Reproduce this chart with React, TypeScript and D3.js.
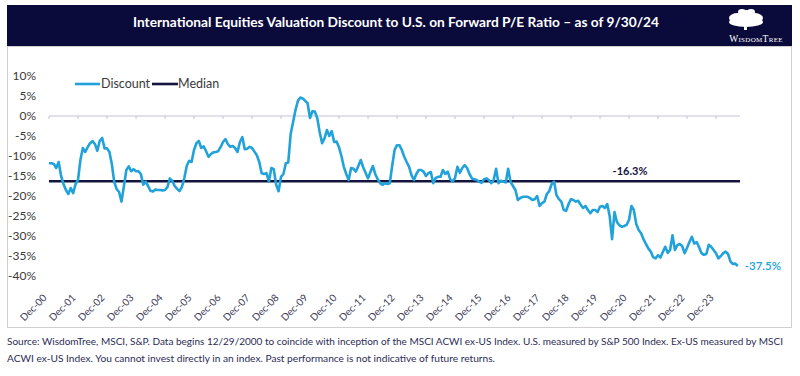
import React from "react";
import * as d3 from "d3";

// Monthly discount (%) from Dec-2000 to Sep-2024
const discount: number[] = [
  -11.8, -11.8, -12, -13, -11.5, -15, -17, -18.5, -19.5, -18, -19.3, -17, -16,
  -11, -8, -9, -7.8, -6.8, -6.3, -7, -8.7, -6.2, -5.5, -8.1, -8.1, -9, -12,
  -16.5, -18.3, -19, -21.4, -17.5, -13.5, -12.6, -13.8, -13.3, -13.8, -13.8,
  -14.5, -17.2, -16.4, -17.5, -18.7, -18.9, -18.4, -18.5, -18.5, -18.6, -18.5,
  -17.8, -15.6, -16.2, -17.5, -18.2, -18.8, -17.7, -15.5, -12.5, -11.2, -11.5,
  -8.5, -6.8, -6.2, -8, -7.6, -8.8, -10.2, -9.5, -9.1, -9.0, -8.8, -7.8, -6.5,
  -5.8, -7, -7.7, -7.5, -8, -9, -6.5, -5.3, -8.3, -8.2, -7.7, -8, -8.9, -9.8,
  -11.5, -14.3, -14.5, -14.3, -16.4, -13, -13.3, -17.2, -18.8, -15.2, -14.5,
  -11.8, -11.6, -4.5, -1.5, 1.5, 3.8, 4.6, 4.4, 3.8, 3.2, -0.5, 1.2, 1.1, -0.5,
  -4, -6.8, -5.6, -3.5, -5, -3.8, -6.5, -6.4, -7.8, -10, -12.7, -14.5, -16, -13,
  -13.2, -13.9, -12.5, -11, -12.8, -14.2, -15.6, -14, -12.5, -14.5, -15.8,
  -16.8, -17.2, -16.8, -17, -16.8, -12.5, -8.5, -7.3, -7.3, -8.5, -10.2, -11.5,
  -12.7, -14.8, -16, -14.5, -13.5, -13.5, -13.9, -15, -14.3, -14, -16.8, -15.5,
  -15.2, -15.2, -13.5, -14.5, -13.9, -15.8, -16.4, -15.5, -12.7, -14.2, -13,
  -12.3, -13, -14.5, -15.6, -15.8, -16, -16.4, -16.7, -15.8, -15.6, -16, -16.8,
  -16, -13.2, -16.8, -16.2, -16.4, -16.6, -13.2, -16.5, -17.5, -18.5, -21,
  -20.5, -20.2, -20.2, -20.2, -20.5, -21, -20.8, -20, -22.5, -21.8, -21.4,
  -19.5, -18.8, -17, -16.4, -19.8, -20.8, -21.4, -23.5, -23.7, -22, -20.8, -21,
  -21.4, -21.2, -22.2, -23, -22.5, -23.5, -24.3, -23.5, -23.5, -24, -22.7,
  -22.5, -23, -22, -25, -30.8, -24, -26.5, -27.3, -27.7, -27.5, -27.2, -26,
  -22.5, -23.5, -27, -28.5, -29.3, -30.8, -32, -33.1, -33.9, -35.3, -35.6,
  -34.8, -35.4, -34, -32.7, -34.2, -33.5, -29.8, -33.5, -32.3, -32, -32.5,
  -34.3, -33, -31.5, -30.2, -31.9, -31.5, -32.8, -34.3, -34.7, -34.5, -32.2,
  -32.7, -33.5, -34.3, -35.6, -35, -34.3, -33.9, -34.5, -36.4, -37, -36.9,
  -37.5,
];
const medianValue = -16.3;
const yTicks = [10, 5, 0, -5, -10, -15, -20, -25, -30, -35, -40];
const xLabels = [
  "Dec-00", "Dec-01", "Dec-02", "Dec-03", "Dec-04", "Dec-05", "Dec-06", "Dec-07",
  "Dec-08", "Dec-09", "Dec-10", "Dec-11", "Dec-12", "Dec-13", "Dec-14", "Dec-15",
  "Dec-16", "Dec-17", "Dec-18", "Dec-19", "Dec-20", "Dec-21", "Dec-22", "Dec-23",
];
const title =
  "International Equities Valuation Discount to U.S. on Forward P/E Ratio \u2013 as of 9/30/24";
const footer1 =
  "Source: WisdomTree, MSCI, S&P. Data begins 12/29/2000 to coincide with inception of the MSCI ACWI ex-US Index. U.S. measured by S&P 500 Index. Ex-US measured by MSCI";
const footer2 =
  "ACWI ex-US Index. You cannot invest directly in an index. Past performance is not indicative of future returns.";

const BLUE = "#22a2da";
const NAVY = "#14143f";
const FONT = "Lato, 'Open Sans', sans-serif";

export default function App() {
  const x = d3.scaleLinear().domain([0, 12 * 23]).range([49, 716]);
  const y = d3.scaleLinear().domain([-40, 10]).range([276, 76]);
  const line = d3
    .line<number>()
    .x((_, i) => x(i))
    .y((d) => y(d));
  const lastI = discount.length - 1;
  const xEnd = 740;

  return (
    <svg
      width={800}
      height={376}
      style={{ position: "absolute", left: 0, top: 0, background: "#fff" }}
      fontFamily={FONT}
    >
      {/* title bar */}
      <rect x={7} y={5} width={785} height={41} fill="#0b0b3b" />
      <text
        x={396}
        y={27}
        fill="#fff"
        fontSize={13.5}
        fontWeight={700}
        textAnchor="middle"
        textLength={526}
        lengthAdjust="spacingAndGlyphs"
      >
        {title}
      </text>
      {/* logo */}
      <g fill="#fff">
        <ellipse cx={746} cy={22} rx={17} ry={5} />
        <ellipse cx={738} cy={18} rx={9} ry={5} />
        <ellipse cx={754} cy={18} rx={9} ry={5} />
        <ellipse cx={746} cy={15} rx={8} ry={5} />
        <ellipse cx={742} cy={12} rx={4} ry={3} />
        <ellipse cx={751} cy={12} rx={4} ry={3} />
        <rect x={744} y={22} width={3} height={8} />
        <text
          x={756}
          y={42}
          fontSize={9.5}
          fontFamily="'Liberation Serif', serif"
          textAnchor="middle"
          letterSpacing={0.3}
        >
          W<tspan fontSize={7}>ISDOM</tspan>T<tspan fontSize={7}>REE</tspan>
        </text>
      </g>
      {/* panel border */}
      <rect x={7.5} y={46.5} width={784} height={281} fill="none" stroke="#cfcfcf" />

      {/* y axis labels */}
      {yTicks.map((t) => (
        <text
          key={t}
          x={36}
          y={y(t)}
          dy="0.35em"
          textAnchor="end"
          fontSize={12}
          fill="#3a3a3a"
        >
          {t}%
        </text>
      ))}

      {/* zero axis line with ticks */}
      <line x1={x(0)} x2={xEnd} y1={y(0)} y2={y(0)} stroke="#c4c4de" strokeWidth={1.2} />
      {xLabels.map((l, i) => (
        <line
          key={l}
          x1={x(i * 12)}
          x2={x(i * 12)}
          y1={y(0)}
          y2={y(0) + 3}
          stroke="#c4c4de"
          strokeWidth={1}
        />
      ))}

      {/* x labels */}
      {xLabels.map((l, i) => (
        <text
          key={l}
          transform={`translate(${x(i * 12) - 4},${296}) rotate(-45)`}
          textAnchor="end"
          dy="0.35em"
          fontSize={10}
          fill="#3a3a55"
        >
          {l}
        </text>
      ))}

      {/* median */}
      <line
        x1={x(0)}
        x2={xEnd}
        y1={y(medianValue)}
        y2={y(medianValue)}
        stroke={NAVY}
        strokeWidth={2.6}
      />
      <text
        x={630}
        y={y(medianValue) - 6}
        textAnchor="middle"
        fontSize={11}
        fontWeight={700}
        fill={NAVY}
      >
        {medianValue.toFixed(1)}%
      </text>

      {/* discount line */}
      <path d={line(discount) || ""} fill="none" stroke={BLUE} strokeWidth={2.6} strokeLinejoin="round" />
      <text
        x={x(lastI) + 7}
        y={y(discount[lastI])}
        dy="0.35em"
        fontSize={11.5}
        fontWeight={600}
        fill={BLUE}
      >
        {discount[lastI].toFixed(1)}%
      </text>

      {/* legend */}
      <line x1={75} x2={100} y1={84} y2={84} stroke={BLUE} strokeWidth={2.6} />
      <text x={101} y={84} dy="0.35em" fontSize={12.5} fill="#3a3a3a">
        Discount
      </text>
      <line x1={152} x2={178} y1={84} y2={84} stroke={NAVY} strokeWidth={2.6} />
      <text x={178} y={84} dy="0.35em" fontSize={12.5} fill="#3a3a3a">
        Median
      </text>

      {/* footer */}
      <text
        x={7}
        y={345}
        fontSize={9.5}
        fill="#2c2c55"
        textLength={776}
        lengthAdjust="spacingAndGlyphs"
      >
        {footer1}
      </text>
      <text
        x={7}
        y={362}
        fontSize={9.5}
        fill="#2c2c55"
        textLength={488}
        lengthAdjust="spacingAndGlyphs"
      >
        {footer2}
      </text>
    </svg>
  );
}
